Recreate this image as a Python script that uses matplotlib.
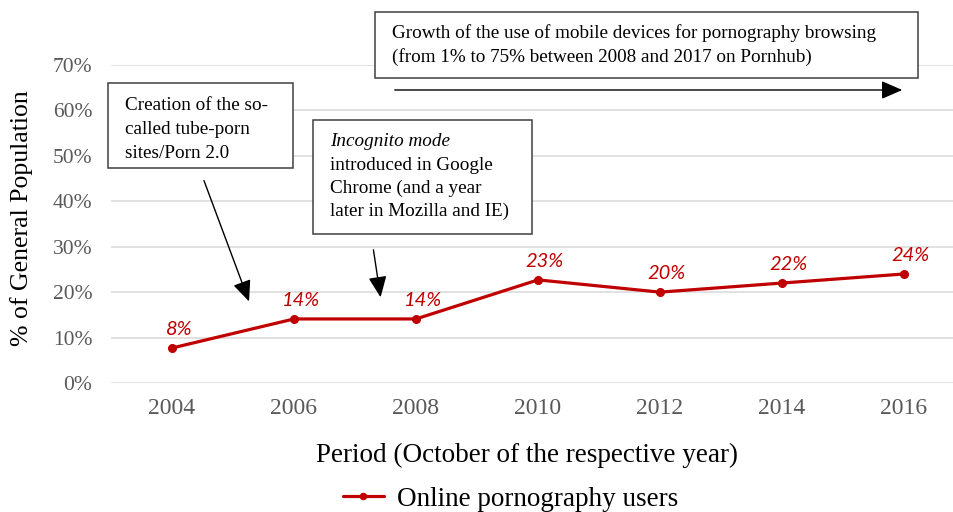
import matplotlib
matplotlib.use("Agg")
import matplotlib.pyplot as plt
from matplotlib.patches import Rectangle

# ---- data ----
years = ["2004", "2006", "2008", "2010", "2012", "2014", "2016"]
users = [7.7, 14.1, 14.1, 22.7, 20.0, 22.0, 24.0]
value_labels = ["8%", "14%", "14%", "23%", "20%", "22%", "24%"]
yticks = [0, 10, 20, 30, 40, 50, 60, 70]
series_name = "Online pornography users"

W, H = 954, 512
RED = "#C00000"
GRAY = "#595959"
SERIF = "Liberation Serif"

fig = plt.figure(figsize=(W / 100, H / 100), dpi=100)

def fx(px):
    return px / W

def fy(py):
    return 1 - py / H

ax = fig.add_axes([fx(111), fy(383), fx(954) - fx(111), fy(65) - fy(383)])
x = list(range(len(years)))
ax.plot(x, users, color=RED, lw=2.3, marker="o", ms=5.5, label=series_name,
        solid_capstyle="round", zorder=3)
for xi, yi, lab in zip(x, users, value_labels):
    ax.annotate(lab, (xi, yi), xytext=(5, 13.5), textcoords="offset points",
                ha="center", va="center", color=RED, fontsize=14.5,
                fontstyle="italic", family="Lato")

ax.set_xlim(-0.5, (954 - 172) / 122)
ax.set_ylim(0, 70)
ax.set_yticks(yticks)
ax.set_yticklabels([f"{v}%" for v in yticks])
ax.set_xticks(x)
ax.set_xticklabels(years)
ax.grid(axis="y", color="#D9D9D9", lw=1.1)
ax.set_axisbelow(True)
for s in ax.spines.values():
    s.set_visible(False)
ax.tick_params(axis="both", length=0)
ax.tick_params(axis="y", pad=13.5, labelsize=15.5, labelcolor=GRAY)
ax.tick_params(axis="x", pad=11, labelsize=17, labelcolor=GRAY)
for t in ax.get_xticklabels() + ax.get_yticklabels():
    t.set_family(SERIF)

# axis titles
fig.text(fx(527), fy(455), "Period (October of the respective year)", ha="center",
         va="center", fontsize=19.5, family=SERIF, color="black")
fig.text(fx(22), fy(218), "% of General Population", ha="center", va="center",
         rotation=90, fontsize=18.5, family=SERIF, color="black")

# legend
leg = fig.legend(loc="center left", bbox_to_anchor=(fx(343), fy(499)),
                 frameon=False, borderpad=0, borderaxespad=0,
                 handlelength=1.5, handletextpad=0.48, markerscale=0.8,
                 prop={"family": SERIF, "size": 19.5})

# annotation boxes
def box(x0, y0, x1, y1):
    fig.add_artist(Rectangle((fx(x0), fy(y1)), fx(x1) - fx(x0), fy(y0) - fy(y1),
                             transform=fig.transFigure, fill=True, fc="white",
                             ec="#404040", lw=1.1, zorder=5))

def arrow(x0, y0, x1, y1):
    fig.add_artist(matplotlib.patches.FancyArrowPatch(
        (fx(x0), fy(y0)), (fx(x1), fy(y1)), transform=fig.transFigure,
        arrowstyle="-|>,head_length=8,head_width=3.5", mutation_scale=1.6,
        color="black", lw=1.0, zorder=6))

def lines(x0, ys, texts, styles=None):
    for i, (yy, tt) in enumerate(zip(ys, texts)):
        st = styles[i] if styles else "normal"
        fig.text(fx(x0), fy(yy), tt, ha="left", va="center", fontsize=13.8,
                 family=SERIF, fontstyle=st, color="black", zorder=7)

box(108, 83, 293, 168)
lines(125, [105, 129, 153], ["Creation of the so-", "called tube-porn", "sites/Porn 2.0"])
arrow(203, 178, 250, 304)

box(313, 120, 532, 234)
lines(330, [142, 165, 188, 211],
      ["Incognito mode", "introduced in Google", "Chrome (and a year",
       "later in Mozilla and IE)"],
      ["italic", "normal", "normal", "normal"])
arrow(373, 247, 381, 300)

box(375, 12, 918, 78)
lines(392, [33, 57], ["Growth of the use of mobile devices for pornography browsing",
                      "(from 1% to 75% between 2008 and 2017 on Pornhub)"])
arrow(392, 90, 905, 90)

fig.savefig("out.png", dpi=100)
